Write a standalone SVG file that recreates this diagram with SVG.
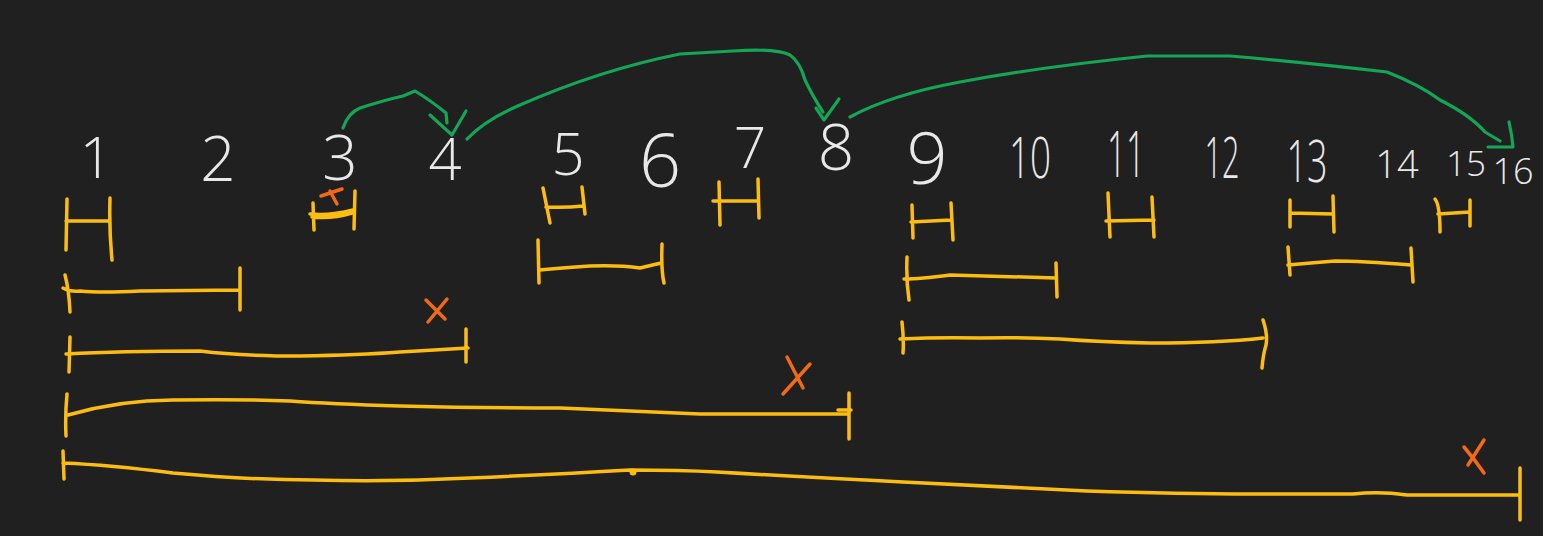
<svg xmlns="http://www.w3.org/2000/svg" width="1543" height="536" viewBox="0 0 1543 536">
<style>
.num{font-family:"Open Sans","Liberation Sans",sans-serif;font-weight:300;fill:#e8e8e8;text-anchor:middle}
.y{fill:none;stroke:#fdbd10;stroke-width:3.5;stroke-linecap:round;stroke-linejoin:round}
.o{fill:none;stroke:#f26a13;stroke-width:3.5;stroke-linecap:round}
.g{fill:none;stroke:#14a556;stroke-width:3.2;stroke-linecap:round;stroke-linejoin:round}
</style>
<rect width="1543" height="536" fill="#202020"/>
<g id="numbers">
<text class="num" x="96" y="178" font-size="57">1</text>
<text class="num" x="218" y="181" font-size="62">2</text>
<text class="num" x="340" y="180" font-size="62">3</text>
<text class="num" x="445" y="180" font-size="58">4</text>
<text class="num" x="568" y="175" font-size="58">5</text>
<text class="num" x="660" y="187" font-size="74">6</text>
<text class="num" x="750" y="168" font-size="57">7</text>
<text class="num" x="836" y="170" font-size="64">8</text>
<text class="num" x="927" y="184" font-size="72">9</text>
<text class="num" x="1030" y="178" font-size="57" textLength="42" lengthAdjust="spacingAndGlyphs">10</text>
<text class="num" x="1126" y="177" font-size="64" textLength="38" lengthAdjust="spacingAndGlyphs">11</text>
<text class="num" x="1222" y="178" font-size="57" textLength="35" lengthAdjust="spacingAndGlyphs">12</text>
<text class="num" x="1307" y="182" font-size="58" textLength="41" lengthAdjust="spacingAndGlyphs">13</text>
<text class="num" x="1397" y="178" font-size="38">14</text>
<text class="num" x="1466" y="176" font-size="35">15</text>
<text class="num" x="1513" y="184" font-size="36">16</text>
</g>
<g id="connectors">
<path class="g" d="M343,128 Q348,113 360,108 Q385,100 403,96 L415,91 Q430,100 446,113 L447,123"/>
<path class="g" d="M430,115 L452,135 L466,111"/>
<path class="g" d="M467,139 Q485,120 520,105 Q600,70 680,54 L733,51 Q775,48 790,55 Q800,62 805,80 Q812,95 823,112"/>
<path class="g" d="M816,108 L824,120 L839,99"/>
<path class="g" d="M850,117 Q890,95 960,82 Q1040,67 1147,56 L1230,56 Q1300,62 1387,72 Q1420,85 1440,100 Q1470,115 1485,132 L1500,141"/>
<path class="g" d="M1509,122 Q1512,135 1513,147 L1488,147"/>
</g>
<g id="row1">
<path class="y" d="M67,199 L66,250 M110,198 Q109,230 112,260 M66,221 L110,221"/>
<path class="y" d="M313,203 L314,230 M355,191 L354,229 M310,214 Q330,216 353,210 M312,217 Q332,219 352,213"/>
<path class="y" d="M543,188 L550,223 M582,187 L585,214 M546,207 Q565,208 583,206"/>
<path class="y" d="M719,182 L720,225 M758,179 L759,218 M713,201 L758,201"/>
<path class="y" d="M912,205 L913,238 M951,203 L953,240 M911,222 L951,220"/>
<path class="y" d="M1108,193 L1110,237 M1152,197 L1154,237 M1106,221 L1154,220"/>
<path class="y" d="M1290,200 L1290,227 M1333,196 L1334,232 M1290,213 L1333,214"/>
<path class="y" d="M1435,199 Q1440,205 1440,232 M1470,200 L1470,226 M1438,214 L1470,212"/>
</g>
<g id="row2">
<path class="y" d="M65,275 Q69,290 70,312 M240,268 L240,310 M63,288 Q70,292 80,291 Q100,293 140,291 L240,290"/>
<path class="y" d="M538,240 L539,283 M662,244 Q661,270 664,283 M540,270 Q560,268 590,266 Q620,265 640,268 L661,263"/>
<path class="y" d="M907,257 Q906,280 909,300 M1056,263 L1057,297 M904,279 Q920,279 950,275 Q990,276 1056,278"/>
<path class="y" d="M1288,247 L1290,275 M1411,248 L1413,282 M1288,265 Q1310,263 1335,261 Q1360,261 1411,265"/>
</g>
<g id="row3">
<path class="y" d="M70,337 L69,372 M466,329 L466,362 M66,354 Q120,351 200,351 Q240,356 300,356 Q360,355 400,352 L468,348"/>
<path class="y" d="M902,322 Q904,340 903,353 M1263,320 Q1268,335 1266,345 Q1263,355 1262,368 M900,339 Q940,337 980,338 Q1020,337 1060,339 Q1100,342 1150,343 Q1220,343 1263,338"/>
</g>
<g id="row4">
<path class="y" d="M67,394 Q65,415 66,436 M849,393 L849,439 M68,415 Q120,400 173,400 Q240,399 290,401 Q330,404 400,406 Q480,408 560,408 Q650,412 700,414 L847,414 M838,410 L851,410"/>
</g>
<g id="row5">
<path class="y" d="M63,451 L64,479 M1520,468 L1520,520 M63,463 Q110,465 173,473 Q250,480 313,480 Q393,482 470,478 Q560,474 630,470 Q680,470 717,472 Q820,478 903,482 Q1000,487 1087,491 Q1180,494 1253,494 L1353,494 Q1380,491 1407,495 L1518,495"/>
<circle cx="633" cy="472" r="3.5" fill="#fdbd10"/>
</g>
<g id="marks">
<path class="o" d="M321,196 L342,189 M330,191 L337,204"/>
<path class="o" d="M426,300 L445,319 M447,299 L428,322"/>
<path class="o" d="M787,357 L803,388 M810,364 L783,394"/>
<path class="o" d="M1464,447 Q1475,460 1484,473 M1484,440 L1468,465"/>
</g>
</svg>
